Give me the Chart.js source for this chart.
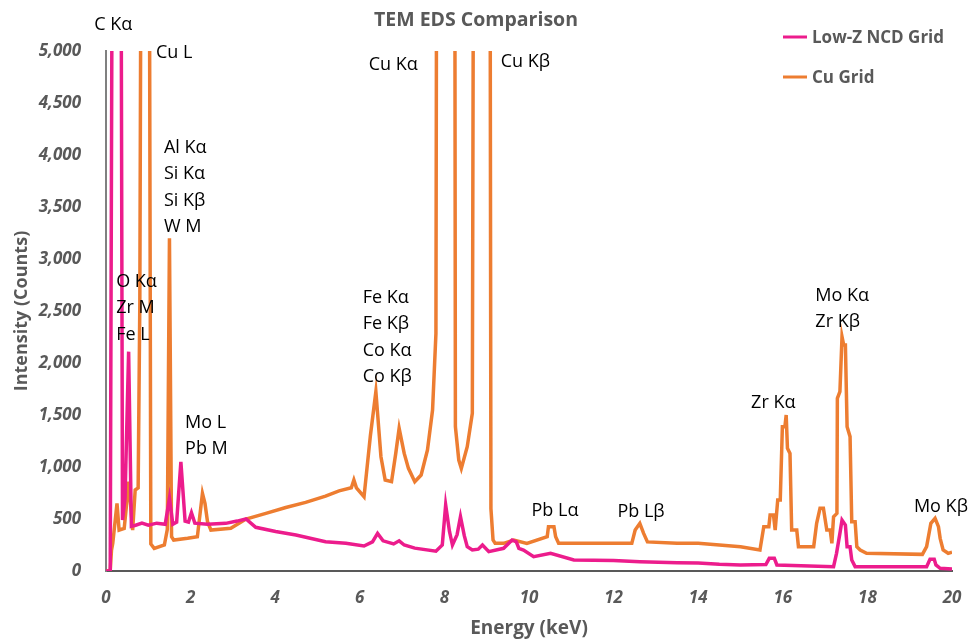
<!DOCTYPE html>
<html>
<head>
<meta charset="utf-8">
<title>TEM EDS Comparison</title>
<script src="https://cdn.jsdelivr.net/npm/chart.js@4.4.1/dist/chart.umd.min.js"></script>
<style>
  html, body { margin: 0; padding: 0; background: #fff; }
  #wrap { width: 968px; height: 640px; }
</style>
</head>
<body>
<div id="wrap"><canvas id="edsChart" width="968" height="640"></canvas></div>
<script>
// spectra, energy in keV, intensity in counts
// peaks that run off the top of the plot are just given 12000
const ncdEnergy = [0, 0.1, 0.19, 0.32, 0.39, 0.45, 0.535, 0.6, 0.7, 0.85, 1.0, 1.2, 1.4, 1.5, 1.58, 1.67, 1.77, 1.87, 1.95, 2.02, 2.1, 2.4, 2.83, 3.1, 3.31, 3.54, 4.01, 4.49, 5.19, 5.67, 6.1, 6.3, 6.42, 6.55, 6.8, 6.93, 7.05, 7.3, 7.8, 7.95, 8.03, 8.12, 8.19, 8.3, 8.38, 8.47, 8.54, 8.66, 8.8, 8.9, 9.05, 9.4, 9.6, 9.7, 9.76, 9.87, 10.11, 10.51, 11.06, 12.0, 12.62, 13.5, 14.0, 14.5, 15.0, 15.6, 15.68, 15.8, 15.86, 17.2, 17.27, 17.35, 17.4, 17.48, 17.52, 17.59, 17.63, 17.71, 19.4, 19.48, 19.58, 19.62, 19.72, 20];
const ncdCounts = [0, 0, 12000, 12000, 490, 700, 2109, 430, 440, 460, 440, 460, 450, 700, 450, 470, 1050, 480, 470, 560, 460, 450, 458, 480, 500, 420, 380, 346, 282, 266, 240, 280, 362, 290, 260, 290, 250, 220, 190, 250, 635, 380, 250, 350, 522, 340, 234, 202, 210, 250, 186, 218, 298, 280, 218, 202, 138, 170, 106, 100, 90, 80, 77, 65, 58, 62, 122, 122, 58, 42, 170, 362, 490, 442, 234, 234, 106, 42, 42, 112, 112, 58, 26, 20];

const cuEnergy = [0, 0.1, 0.13, 0.16, 0.26, 0.31, 0.43, 0.54, 0.63, 0.69, 0.76, 0.8, 0.87, 0.99, 1.06, 1.14, 1.38, 1.45, 1.5, 1.55, 1.6, 1.93, 2.16, 2.28, 2.34, 2.4, 2.48, 2.95, 3.31, 3.78, 4.25, 4.72, 5.19, 5.51, 5.8, 5.86, 5.92, 6.1, 6.25, 6.38, 6.5, 6.6, 6.75, 6.85, 6.93, 7.05, 7.15, 7.3, 7.45, 7.6, 7.72, 7.8, 7.84, 8.23, 8.26, 8.34, 8.4, 8.54, 8.66, 8.72, 9.06, 9.1, 9.15, 9.2, 9.4, 9.64, 9.95, 10.43, 10.46, 10.59, 10.63, 10.7, 12.43, 12.51, 12.62, 12.71, 12.8, 13.5, 14.0, 14.5, 15.0, 15.46, 15.55, 15.67, 15.7, 15.78, 15.82, 15.88, 15.94, 15.99, 16.05, 16.08, 16.11, 16.17, 16.21, 16.33, 16.37, 16.73, 16.8, 16.88, 16.96, 17.04, 17.12, 17.16, 17.2, 17.28, 17.29, 17.35, 17.4, 17.44, 17.48, 17.52, 17.59, 17.63, 17.71, 17.75, 17.83, 17.98, 19.3, 19.4, 19.5, 19.6, 19.68, 19.72, 19.79, 19.91, 20];
const cuCounts = [0, 0, 200, 266, 650, 394, 410, 860, 394, 779, 800, 2600, 12000, 12000, 260, 218, 250, 400, 3200, 330, 298, 314, 330, 747, 650, 474, 394, 410, 500, 554, 610, 660, 720, 770, 800, 875, 800, 714, 1300, 1724, 1099, 875, 859, 1131, 1372, 1131, 987, 859, 923, 1163, 1548, 2285, 12000, 12000, 1387, 1067, 987, 1195, 1516, 12000, 12000, 600, 298, 266, 266, 298, 266, 330, 426, 426, 330, 266, 266, 394, 458, 362, 280, 266, 266, 250, 234, 202, 426, 426, 538, 538, 394, 683, 683, 1388, 1388, 1500, 1180, 1131, 394, 394, 234, 234, 458, 603, 603, 394, 394, 266, 522, 554, 1660, 1724, 2253, 2173, 2173, 1388, 1292, 474, 474, 234, 202, 170, 160, 234, 458, 506, 426, 314, 202, 170, 180];

const seriesNames = ['Low-Z NCD Grid', 'Cu Grid'];

// peak annotations: text lines, anchored at (keV, counts) of the first line's left edge
const peakLabels = [
  { lines: ['C K\u03b1'], x: -0.28, y: 5250 },
  { lines: ['Cu L'], x: 1.18, y: 4980 },
  { lines: ['Al K\u03b1', 'Si K\u03b1', 'Si K\u03b2', 'W M'], x: 1.37, y: 4067 },
  { lines: ['O K\u03b1', 'Zr M', 'Fe L'], x: 0.24, y: 2779 },
  { lines: ['Mo L', 'Pb M'], x: 1.87, y: 1423 },
  { lines: ['Cu K\u03b1'], x: 6.21, y: 4865 },
  { lines: ['Cu K\u03b2'], x: 9.33, y: 4894 },
  { lines: ['Fe K\u03b1', 'Fe K\u03b2', 'Co K\u03b1', 'Co K\u03b2'], x: 6.07, y: 2625 },
  { lines: ['Pb L\u03b1'], x: 10.06, y: 577 },
  { lines: ['Pb L\u03b2'], x: 12.09, y: 567 },
  { lines: ['Zr K\u03b1'], x: 15.25, y: 1615 },
  { lines: ['Mo K\u03b1', 'Zr K\u03b2'], x: 16.77, y: 2644 },
  { lines: ['Mo K\u03b2'], x: 19.1, y: 615 }
];

const toPoints = (xs, ys) => xs.map((x, i) => ({ x: x, y: ys[i] }));

const peakLabelPlugin = {
  id: 'peakLabels',
  afterDatasetsDraw(chart) {
    const ctx = chart.ctx;
    const xs = chart.scales.x, ys = chart.scales.y;
    ctx.save();
    ctx.font = '18px "Open Sans"';
    ctx.fillStyle = '#000';
    ctx.textAlign = 'left';
    ctx.textBaseline = 'middle';
    peakLabels.forEach(lbl => {
      const px = xs.getPixelForValue(lbl.x);
      const py = ys.getPixelForValue(lbl.y);
      lbl.lines.forEach((t, j) => ctx.fillText(t, px, py + j * 26.3));
    });
    ctx.restore();
  }
};

// legend sits inside the top right corner of the plot, one entry per row
const cornerLegend = {
  id: 'cornerLegend',
  afterDraw(chart) {
    const ctx = chart.ctx;
    const area = chart.chartArea;
    ctx.save();
    ctx.font = 'bold 17px "Open Sans"';
    ctx.textBaseline = 'middle';
    ctx.textAlign = 'left';
    chart.data.datasets.forEach((ds, i) => {
      const y = area.top - 14 + i * 40;
      ctx.strokeStyle = ds.borderColor;
      ctx.lineWidth = 3;
      ctx.beginPath();
      ctx.moveTo(area.right - 169, y);
      ctx.lineTo(area.right - 145, y);
      ctx.stroke();
      ctx.fillStyle = '#595959';
      ctx.fillText(ds.label, area.right - 140, y + 1);
    });
    ctx.restore();
  }
};

const ctx = document.getElementById('edsChart').getContext('2d');
new Chart(ctx, {
  type: 'line',
  data: {
    datasets: [
      {
        label: seriesNames[0],
        data: toPoints(ncdEnergy, ncdCounts),
        borderColor: '#EC1C8C',
        borderWidth: 3.5,
        pointRadius: 0,
        tension: 0
      },
      {
        label: seriesNames[1],
        data: toPoints(cuEnergy, cuCounts),
        borderColor: '#ED7D31',
        borderWidth: 3.5,
        pointRadius: 0,
        tension: 0
      }
    ]
  },
  options: {
    responsive: false,
    devicePixelRatio: 1,
    animation: false,
    layout: { padding: { top: 0, right: 16, bottom: 0, left: 0 } },
    plugins: {
      legend: { display: false },
      tooltip: { enabled: false },
      title: {
        display: true,
        text: 'TEM EDS Comparison',
        color: '#595959',
        font: { family: 'Open Sans', size: 19.5, weight: 'bold' },
        padding: { top: 9, bottom: 18.6 }
      }
    },
    scales: {
      x: {
        type: 'linear',
        min: 0,
        max: 20,
        grid: { display: false, drawTicks: false },
        border: { display: true, color: '#595959', width: 2 },
        ticks: {
          stepSize: 2,
          padding: 17,
          color: '#595959',
          font: { family: 'Open Sans', size: 17, weight: 'bold', style: 'italic' }
        },
        title: {
          display: true,
          text: 'Energy (keV)',
          color: '#595959',
          font: { family: 'Open Sans', size: 19, weight: 'bold' },
          padding: { top: 0, bottom: 0 }
        },
        // fixed axis band; the last tick label may hang into the right margin
        afterFit(scale) { scale.height = 69; scale.paddingRight = 0; }
      },
      y: {
        min: 0,
        max: 5000,
        grid: { display: false, drawTicks: false },
        border: { display: true, color: '#808080', width: 2 },
        ticks: {
          stepSize: 500,
          padding: 25,
          color: '#595959',
          font: { family: 'Open Sans', size: 17, weight: 'bold', style: 'italic' },
          callback: v => v.toLocaleString('en-US')
        },
        title: {
          display: true,
          text: 'Intensity (Counts)',
          color: '#595959',
          font: { family: 'Open Sans', size: 18, weight: 'bold' },
          padding: { top: 11, bottom: 0 }
        },
        afterFit(scale) { scale.width = 106; }
      }
    }
  },
  plugins: [peakLabelPlugin, cornerLegend]
});
</script>
</body>
</html>
